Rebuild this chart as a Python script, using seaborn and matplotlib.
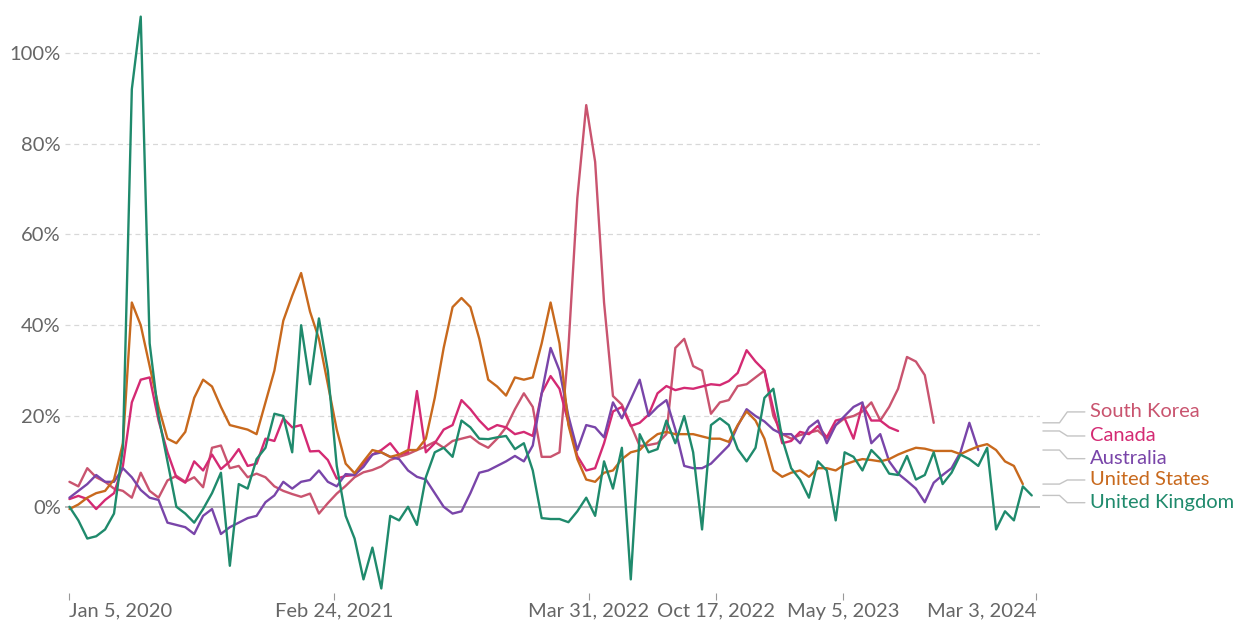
import matplotlib
matplotlib.use("Agg")
import matplotlib.pyplot as plt
import matplotlib.transforms as mtransforms
import seaborn as sns
import numpy as np
import pandas as pd

# biweekly samples, Jan 5 2020 onwards (values in %)
nan = np.nan
dates = pd.date_range("2020-01-05", periods=109, freq="14D")

south_korea = [5.5, 4.5, 8.5, 6.5, 5.5, 4, 3.5, 2, 7.5, 3.5, 2, 5.8, 6.8, 5.5, 6.5, 4.3, 13, 13.5, 8.5, 9,
               6.5, 7.3, 6.5, 4.5, 3.5, 2.8, 2.2, 2.9, -1.5, 0.8, 2.9, 4.6, 6.5, 7.6, 8.1, 8.9, 10.3, 11, 11.6, 12.5,
               13.3, 14.3, 13, 14.5, 15, 15.5, 14, 13, 15, 17.5, 21.5, 25, 22, 11, 11, 12, 35, 68, 88.5, 76,
               45, 24.4, 22.5, 18, 13.4, 13.6, 14, 16, 35, 37, 31, 30, 20.5, 23, 23.5, 26.6, 27, 28.5, 30, 20,
               16, 15, 15.8, 16.3, 16.8, 15, 18, 19.5, 20, 21, 23, 19, 22, 26, 33, 32, 29, 18.5, nan, nan,
               nan, nan, nan, nan, nan, nan, nan, nan, nan]
canada = [1.7, 2.4, 1.7, -0.5, 1.5, 3, 9, 23, 28, 28.5, 19, 12, 6.5, 5.3, 10, 8, 11.5, 8.3, 10, 12.7,
          9, 9.5, 15, 14.5, 19.5, 17.5, 18, 12.2, 12.3, 10.3, 6.2, 6.8, 7, 9.6, 11.5, 12.5, 14, 11.5, 12, 25.5,
          12, 14, 17, 18, 23.5, 21.5, 19, 17, 18, 17.5, 16, 16.5, 15.6, 25, 28.8, 26, 18.5, 11.2, 8, 8.5,
          14, 21, 22, 17.8, 18.5, 20.3, 25, 26.6, 25.7, 26.2, 26, 26.5, 27, 26.8, 27.7, 29.5, 34.5, 32, 30, 21.5,
          14, 14.5, 16.5, 16, 17.8, 15.3, 19, 19.5, 15, 22.5, 19, 19, 17.5, 16.7, nan, nan, nan, nan, nan, nan,
          nan, nan, nan, nan, nan, nan, nan, nan, nan]
australia = [2, 3.5, 5, 7, 5.5, 5.5, 8.5, 6.5, 3.7, 2, 1.5, -3.5, -4, -4.5, -6, -2, -0.5, -6, -4.5, -3.5,
             -2.5, -2, 1, 2.5, 5.5, 4, 5.5, 5.9, 8, 5.5, 4.5, 7.2, 7, 8.8, 11.5, 12, 11, 10.5, 8, 6.6,
             6, 3, 0, -1.5, -1, 3, 7.5, 8, 9, 10, 11.2, 10, 13.5, 25, 35, 30, 20, 12.5, 18, 17.5,
             15.3, 23, 19.5, 23.7, 28, 20, 22, 23.5, 17, 9, 8.5, 8.5, 9.5, 11.5, 13.5, 17.8, 21.5, 20, 18.8, 17,
             16, 16, 14, 17.5, 19, 14, 18, 20, 22, 23, 14, 16, 10, 7.3, 5.7, 4, 1, 5.3, 7, 8.5,
             12, 18.5, 12.5, nan, nan, nan, nan, nan, nan]
united_states = [-0.5, 0.5, 2, 3, 3.5, 6, 14, 45, 40, 31, 22, 15, 14, 16.5, 24, 28, 26.5, 22, 18, 17.5,
                 17, 16, 23, 30, 41, 46.5, 51.5, 43, 37, 27, 17, 9.5, 7.4, 10, 12.5, 12, 11, 11.5, 12.5, 12.5,
                 15, 24, 35, 44, 46, 44, 37, 28, 26.5, 24.5, 28.5, 28, 28.5, 36, 45, 36, 18, 10.5, 6, 5.5,
                 7.5, 8, 10.5, 12, 12.5, 14.5, 16, 16.5, 16, 16, 16, 15.5, 15, 15, 14.3, 18, 21, 19, 15, 8,
                 6.6, 7.5, 8, 6.6, 8.5, 8.5, 8, 9.3, 10, 10.5, 10.3, 10, 10.5, 11.5, 12.3, 13, 12.8, 12.3, 12.3, 12.3,
                 11.6, 12.5, 13.3, 13.8, 12.5, 10, 9, 5, nan]
united_kingdom = [0, -3, -7, -6.5, -5, -1.5, 13, 92, 108, 36, 20, 10, 0, -1.5, -3.5, -0.5, 3, 7.5, -13, 5,
                  4, 10.5, 13, 20.5, 20, 12, 40, 27, 41.5, 30, 9, -2, -7, -16, -9, -18, -2, -3, 0, -4,
                  6.5, 12, 13, 11, 19, 17.5, 15, 14.9, 15.3, 15.6, 12.7, 14, 8, -2.5, -2.7, -2.7, -3.4, -1, 2, -2,
                  10, 4, 13, -16, 16, 12, 12.7, 19, 14, 20, 12, -5, 18, 19.5, 18, 12.7, 10, 13, 24, 26,
                  15, 8.5, 6, 2, 10, 8, -3, 12, 11, 8, 12.5, 10.5, 7.3, 7, 11.2, 6, 7, 12, 5, 7.5,
                  11.5, 10.5, 9, 13, -5, -1, -3, 4.5, 2.5]

countries = ["South Korea", "Canada", "Australia", "United States", "United Kingdom"]
colors = {"South Korea": "#c9546f", "Canada": "#d42a73", "Australia": "#7945a9",
          "United States": "#c8691d", "United Kingdom": "#1f8a6c"}
label_y = {"South Korea": 20.9, "Canada": 15.6, "Australia": 10.6,
           "United States": 5.9, "United Kingdom": 0.9}

tick_dates = pd.to_datetime(["2020-01-05", "2021-02-24", "2022-03-31", "2022-10-17", "2023-05-05", "2024-03-03"])
tick_labels = ["Jan 5, 2020", "Feb 24, 2021", "Mar 31, 2022", "Oct 17, 2022", "May 5, 2023", "Mar 3, 2024"]

series = dict(zip(countries, [south_korea, canada, australia, united_states, united_kingdom]))
frames = []
for name in countries:
    frames.append(pd.DataFrame({"date": dates, "value": series[name], "country": name}))
df = pd.concat(frames, ignore_index=True)

sns.set_style("white")
plt.rcParams["font.family"] = ["Lato", "DejaVu Sans"]

fig = plt.figure(figsize=(12.36, 6.23), dpi=100)
ax = fig.add_axes([65 / 1236, 1 - 593 / 623, 975 / 1236, 590 / 623])

for y in [20, 40, 60, 80, 100]:
    ax.axhline(y, color="#d8d8d8", lw=0.9, ls=(0, (4, 3)), zorder=0)
ax.axhline(0, color="#a8a8a8", lw=1.1, zorder=1)

sns.lineplot(data=df, x="date", y="value", hue="country", hue_order=countries,
             palette=colors, linewidth=1.7, legend=False, ax=ax)

ax.set_xlim(pd.Timestamp("2019-12-29"), pd.Timestamp("2024-03-09"))
ax.set_ylim(-19, 111)
ax.set_xticks(tick_dates)
ax.set_xticklabels(tick_labels)
ax.set_yticks([0, 20, 40, 60, 80, 100])
ax.set_yticklabels([f"{v}%" for v in [0, 20, 40, 60, 80, 100]])
ax.tick_params(axis="y", length=0, pad=3, labelsize=14.5, labelcolor="#666666")
ax.tick_params(axis="x", length=5, width=0.8, color="#999999", direction="out",
               pad=2, labelsize=14.5, labelcolor="#666666", bottom=True)
# first label hangs right of its tick, last one left of it
xl = ax.get_xticklabels()
xl[0].set_ha("left")
xl[-1].set_ha("right")
ax.set_xlabel("")
ax.set_ylabel("")
sns.despine(ax=ax, left=True, bottom=True)

# labels with elbow connectors on the right
trans = mtransforms.blended_transform_factory(ax.transAxes, ax.transData)
for name in countries:
    vals = pd.Series(series[name]).dropna()
    last = vals.iloc[-1]
    ly = label_y[name]
    ax.plot([1.003, 1.020, 1.028, 1.046], [last, last, ly, ly], transform=trans,
            color="#c4c4c4", lw=1, clip_on=False)
    ax.text(1.051, ly, name, transform=trans, color=colors[name], fontsize=14.5,
            va="center", ha="left")

plt.savefig("out.png", dpi=100)
